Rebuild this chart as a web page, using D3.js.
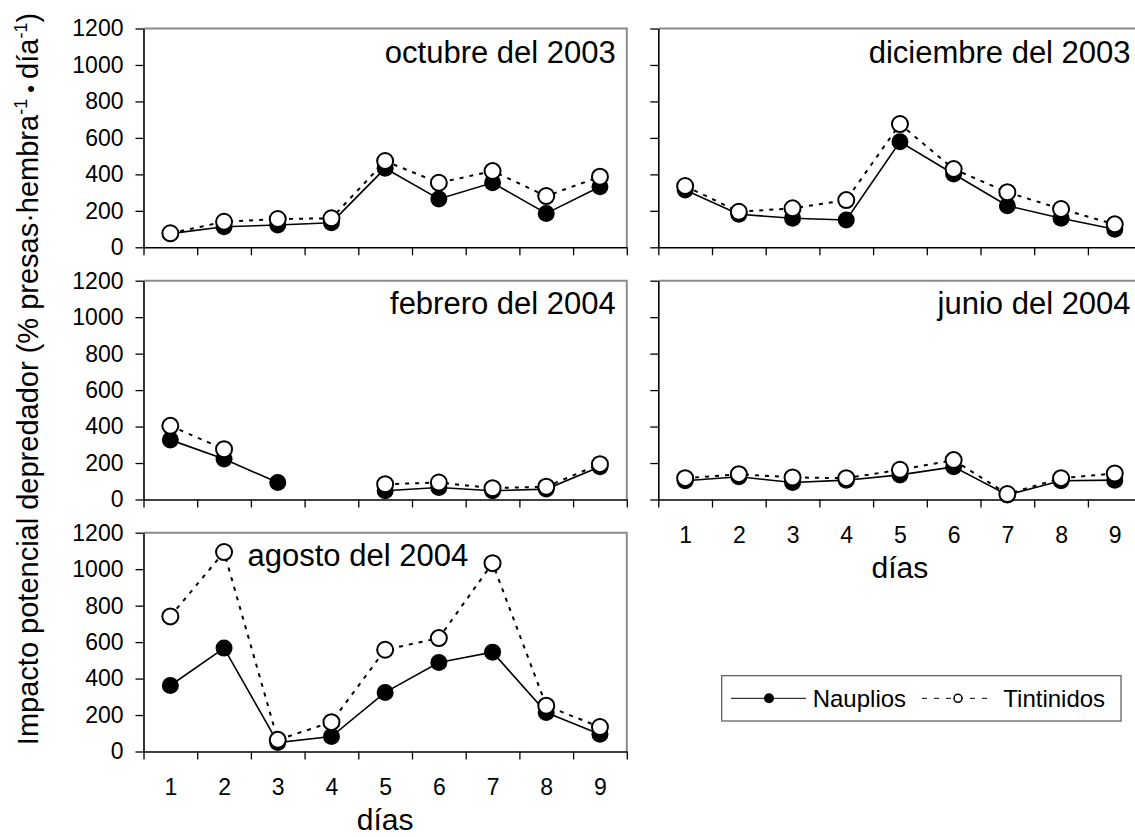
<!DOCTYPE html>
<html>
<head>
<meta charset="utf-8">
<script src="https://cdn.jsdelivr.net/npm/d3@7"></script>
<style>
  body { margin: 0; background: #fff; }
  text { font-family: "Liberation Sans", Arial, sans-serif; fill: #000; }
</style>
</head>
<body>
<script>
// ---------- data ----------
const dias = [1, 2, 3, 4, 5, 6, 7, 8, 9];
const yTicks = [0, 200, 400, 600, 800, 1000, 1200];
const panelTitles = ["octubre del 2003", "diciembre del 2003", "febrero del 2004", "junio del 2004", "agosto del 2004"];
const seriesNames = ["Nauplios", "Tintinidos"];

const naupliosOct = [75, 113, 122, 135, 433, 265, 354, 186, 332];
const tintinidosOct = [77, 140, 155, 159, 473, 354, 418, 281, 387];

const naupliosDic = [314, 181, 159, 150, 579, 402, 228, 159, 99];
const tintinidosDic = [336, 195, 214, 259, 676, 429, 302, 210, 126];

const naupliosFeb = [327, 222, 93, null, 48, 66, 48, 57, 179];
const tintinidosFeb = [404, 276, null, null, 84, 93, 62, 70, 194];

const naupliosJun = [103, 125, 93, 106, 135, 179, 25, 103, 106];
const tintinidosJun = [117, 139, 121, 117, 163, 216, 30, 117, 143];

const naupliosAgo = [362, 567, 49, 82, 324, 488, 545, 214, 95];
const tintinidosAgo = [741, 1094, 64, 161, 558, 622, 1033, 251, 134];

// ---------- layout ----------
const W = 483.3, H = 218.8;
const colX = [143.5, 658.3];
const rowY = [28.5, 280.7, 532.7];

const panels = [
  { title: panelTitles[0], n: naupliosOct, t: tintinidosOct, col: 0, row: 0, xLabels: false, titleAnchor: "end" },
  { title: panelTitles[1], n: naupliosDic, t: tintinidosDic, col: 1, row: 0, xLabels: false, titleAnchor: "end" },
  { title: panelTitles[2], n: naupliosFeb, t: tintinidosFeb, col: 0, row: 1, xLabels: false, titleAnchor: "end" },
  { title: panelTitles[3], n: naupliosJun, t: tintinidosJun, col: 1, row: 1, xLabels: true, titleAnchor: "end" },
  { title: panelTitles[4], n: naupliosAgo, t: tintinidosAgo, col: 0, row: 2, xLabels: true, titleAnchor: "start" }
];

const svg = d3.select("body").append("svg")
  .attr("width", 1135).attr("height", 837);

const boundaries = d3.range(0.5, 10, 1);

panels.forEach(p => {
  const g = svg.append("g")
    .attr("transform", `translate(${colX[p.col]},${rowY[p.row]})`);
  const x = d3.scaleLinear().domain([0.5, 9.5]).range([0, W]);
  const y = d3.scaleLinear().domain([0, 1200]).range([H, 0]);

  // frame (top + right) in gray
  g.append("path")
    .attr("d", `M0,0H${W}V${H}`)
    .attr("fill", "none").attr("stroke", "#8a8a8a").attr("stroke-width", 2);

  // y axis
  const ya = g.append("g").call(
    d3.axisLeft(y).tickValues(yTicks).tickSize(8).tickSizeOuter(0).tickPadding(12)
      .tickFormat(p.col === 0 ? d3.format("d") : () => "")
  );
  ya.select(".domain").attr("stroke", "#000").attr("stroke-width", 1.6);
  ya.selectAll(".tick line").attr("stroke", "#000").attr("stroke-width", 1.3);
  ya.selectAll(".tick text").style("font-size", "23px").style("font-family", "Liberation Sans, Arial, sans-serif");

  // x axis (ticks at day boundaries)
  const xa = g.append("g").attr("transform", `translate(0,${H})`).call(
    d3.axisBottom(x).tickValues(boundaries).tickSize(8).tickSizeOuter(0).tickFormat(() => "")
  );
  xa.select(".domain").attr("stroke", "#000").attr("stroke-width", 1.6);
  xa.selectAll(".tick line").attr("stroke", "#000").attr("stroke-width", 1.3);

  if (p.xLabels) {
    const xl = g.append("g").attr("transform", `translate(0,${H})`).call(
      d3.axisBottom(x).tickValues(dias).tickSize(0).tickPadding(27).tickFormat(d3.format("d"))
    );
    xl.select(".domain").remove();
    xl.selectAll(".tick text").style("font-size", "23px").style("font-family", "Liberation Sans, Arial, sans-serif");
    g.append("text")
      .attr("x", W / 2).attr("y", H + 79)
      .attr("text-anchor", "middle")
      .style("font-size", "30px")
      .text("días");
  }

  // title
  g.append("text")
    .attr("x", p.titleAnchor === "end" ? W - 11 : 104)
    .attr("y", p.row === 0 ? 34.5 : 33)
    .attr("text-anchor", p.titleAnchor)
    .style("font-size", "31px")
    .text(p.title);

  const line = d3.line()
    .defined(d => d.v != null)
    .x(d => x(d.d)).y(d => y(d.v));

  const nData = dias.map((d, i) => ({ d, v: p.n[i] }));
  const tData = dias.map((d, i) => ({ d, v: p.t[i] }));

  g.append("path").datum(nData).attr("d", line)
    .attr("fill", "none").attr("stroke", "#000").attr("stroke-width", 1.6);
  g.append("path").datum(tData).attr("d", line)
    .attr("fill", "none").attr("stroke", "#000").attr("stroke-width", 2)
    .attr("stroke-dasharray", "4,6");

  g.selectAll("circle.n").data(nData.filter(d => d.v != null)).enter()
    .append("circle").attr("class", "n")
    .attr("cx", d => x(d.d)).attr("cy", d => y(d.v)).attr("r", 8.5)
    .attr("fill", "#000");
  g.selectAll("circle.t").data(tData.filter(d => d.v != null)).enter()
    .append("circle").attr("class", "t")
    .attr("cx", d => x(d.d)).attr("cy", d => y(d.v)).attr("r", 8)
    .attr("fill", "#fff").attr("stroke", "#000").attr("stroke-width", 2);
});

// y axis title
const yt = svg.append("text")
  .attr("transform", "translate(38,379) rotate(-90)")
  .attr("text-anchor", "middle")
  .style("font-size", "29px");
yt.append("tspan").text("Impacto potencial depredador (% presas·hembra");
yt.append("tspan").attr("dy", -11).style("font-size", "18px").text("-1");
yt.append("tspan").attr("dy", 11).style("font-size", "22px").text(" • ");
yt.append("tspan").text("día");
yt.append("tspan").attr("dy", -11).style("font-size", "18px").text("-1");
yt.append("tspan").attr("dy", 11).text(")");

// legend
const lg = svg.append("g");
lg.append("rect").attr("x", 721.7).attr("y", 675.7).attr("width", 399.3).attr("height", 45.3)
  .attr("fill", "#fff").attr("stroke", "#555").attr("stroke-width", 1.2);
lg.append("line").attr("x1", 731).attr("x2", 806).attr("y1", 698.3).attr("y2", 698.3)
  .attr("stroke", "#000").attr("stroke-width", 1);
lg.append("circle").attr("cx", 769).attr("cy", 698.3).attr("r", 5).attr("fill", "#000");
lg.append("text").attr("x", 812.7).attr("y", 707).style("font-size", "24px").text(seriesNames[0]);
lg.append("line").attr("x1", 922).attr("x2", 992).attr("y1", 698.3).attr("y2", 698.3)
  .attr("stroke", "#000").attr("stroke-width", 1).attr("stroke-dasharray", "5,7");
lg.append("circle").attr("cx", 958).attr("cy", 698.3).attr("r", 4).attr("fill", "#fff")
  .attr("stroke", "#000").attr("stroke-width", 1.5);
lg.append("text").attr("x", 1003.3).attr("y", 707).style("font-size", "24px").text(seriesNames[1]);
</script>
</body>
</html>
